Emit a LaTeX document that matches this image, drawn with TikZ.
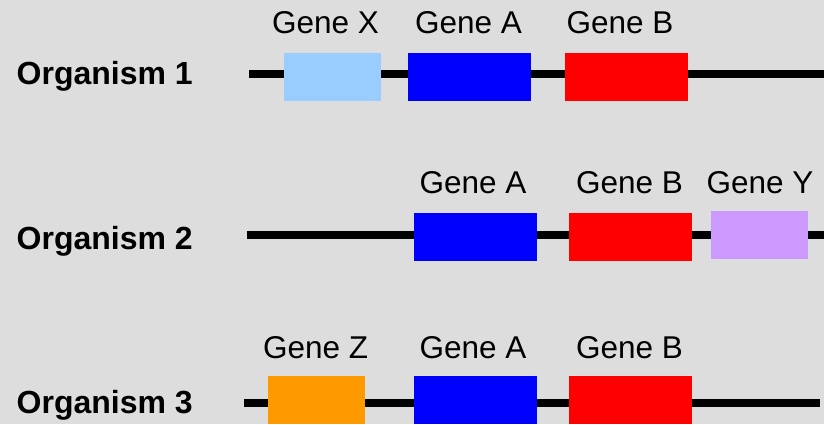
\documentclass[tikz,border=0pt]{standalone}
\usepackage{fontspec}
\setmainfont{Liberation Sans}
\definecolor{bg}{HTML}{DDDDDD}
\definecolor{geneX}{HTML}{99CCFF}
\definecolor{geneA}{HTML}{0000FF}
\definecolor{geneB}{HTML}{FF0000}
\definecolor{geneY}{HTML}{CC99FF}
\definecolor{geneZ}{HTML}{FF9900}
\tikzset{
  genebox/.style={draw=none, inner sep=0pt, minimum height=48pt},
  shortgene/.style={genebox, minimum width=97pt},
  longgene/.style={genebox, minimum width=123pt},
  genelabel/.style={anchor=base, inner sep=0pt, font=\fontsize{31.5}{36}\selectfont},
  orglabel/.style={anchor=base west, inner sep=0pt, font=\fontsize{32}{36}\selectfont\bfseries},
  chrom/.style={line width=8pt, black}
}
\begin{document}
\begin{tikzpicture}[x=1pt, y=-1pt]
\fill[bg] (0,0) rectangle (824,424);
\useasboundingbox (0,0) rectangle (824,424);

% Organism 1
\node[orglabel] (o1) at (16.5,84) {Organism 1};
\coordinate (s1) at (249,74);
\coordinate (e1) at (824,74);
\draw[chrom] (s1) -- (e1);
\node[shortgene, fill=geneX] (x1) at (332.5,77) {};
\node[longgene, fill=geneA] (a1) at (469.5,77) {};
\node[longgene, fill=geneB] (b1) at (626.5,77) {};
\node[genelabel] (lx1) at (325.5,33) {Gene X};
\node[genelabel] (la1) at (468.5,33) {Gene A};
\node[genelabel] (lb1) at (620,33) {Gene B};

% Organism 2
\node[orglabel] (o2) at (16.5,249) {Organism 2};
\coordinate (s2) at (247,235);
\coordinate (e2) at (824,235);
\draw[chrom] (s2) -- (e2);
\node[longgene, fill=geneA] (a2) at (475.5,237) {};
\node[longgene, fill=geneB] (b2) at (630.5,237) {};
\node[shortgene, fill=geneY] (y2) at (759.5,235) {};
\node[genelabel] (la2) at (473,193) {Gene A};
\node[genelabel] (lb2) at (629.5,193) {Gene B};
\node[genelabel] (ly2) at (760,193) {Gene Y};

% Organism 3
\node[orglabel] (o3) at (16.5,413) {Organism 3};
\coordinate (s3) at (244,402.5);
\coordinate (e3) at (820,402.5);
\draw[chrom] (s3) -- (e3);
\node[shortgene, fill=geneZ] (z3) at (316.5,400) {};
\node[longgene, fill=geneA] (a3) at (475.5,400) {};
\node[longgene, fill=geneB] (b3) at (630.5,400) {};
\node[genelabel] (lz3) at (315.7,358) {Gene Z};
\node[genelabel] (la3) at (473,358) {Gene A};
\node[genelabel] (lb3) at (629.5,358) {Gene B};
\end{tikzpicture}
\end{document}
